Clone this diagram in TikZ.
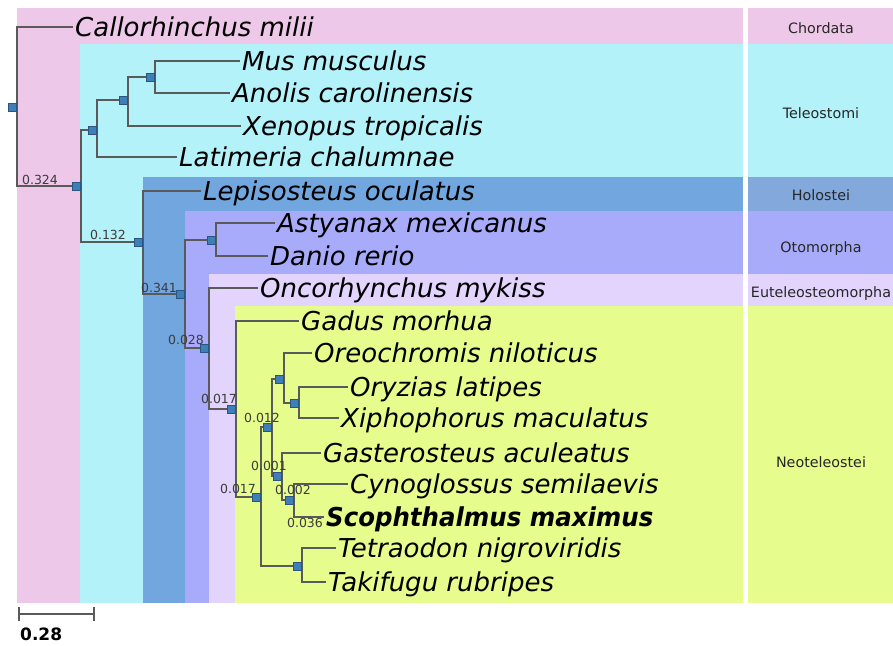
\documentclass[tikz,border=0pt]{standalone}
\usepackage{fontspec}
\setmainfont{DejaVu Sans}
\usetikzlibrary{backgrounds}
\definecolor{cchord}{HTML}{EEC8E8}
\definecolor{cteleo}{HTML}{B4F2FA}
\definecolor{cholo}{HTML}{72A6DE}
\definecolor{cholor}{HTML}{82A8DC}
\definecolor{coto}{HTML}{A8AAFA}
\definecolor{ceutel}{HTML}{E2D4FC}
\definecolor{cneo}{HTML}{E6FC8C}
\definecolor{brgrey}{HTML}{5A5A5A}
\definecolor{blgrey}{HTML}{3C3C3C}
\definecolor{jnfill}{HTML}{3F7FB8}
\definecolor{jnedge}{HTML}{2A5580}
\begin{document}
\begin{tikzpicture}[x=1pt,y=-1pt,
  leaf/.style={anchor=west,inner xsep=2pt,inner ysep=0pt,text height=19pt,text depth=0pt,font=\fontsize{26}{26}\selectfont\itshape},
  jn/.style={draw=jnedge,fill=jnfill,minimum size=8pt,inner sep=0pt,anchor=east,line width=0.6pt},
  br/.style={draw=brgrey,line width=1.2pt},
  bl/.style={inner sep=0pt,text height=9.1pt,text depth=0pt,font=\fontsize{12.5}{12.5}\selectfont,text=blgrey},
  clade/.style={inner sep=0pt,text height=10.4pt,text depth=0pt,font=\fontsize{14.3}{15}\selectfont,text=black!85}
]
\useasboundingbox (0,0) rectangle (893,645);
\begin{scope}[on background layer]
\fill[white] (0,0) rectangle (893,645);
\fill[cchord] (17,8) rectangle (743,603);
\fill[cteleo] (80,44) rectangle (743,603);
\fill[cholo] (143,177) rectangle (743,603);
\fill[coto] (185,211) rectangle (743,603);
\fill[ceutel] (209,274) rectangle (743,603);
\fill[cneo] (235,306) rectangle (743,603);
\fill[cchord] (748,8) rectangle (893,44);
\fill[cteleo] (748,44) rectangle (893,177);
\fill[cholor] (748,177) rectangle (893,211);
\fill[coto] (748,211) rectangle (893,274);
\fill[ceutel] (748,274) rectangle (893,306);
\fill[cneo] (748,306) rectangle (893,603);
\end{scope}

\node[clade] (chordata) at (821,28) {Chordata};
\node[clade] (teleostomi) at (821,113) {Teleostomi};
\node[clade] (holostei) at (821,195) {Holostei};
\node[clade] (otomorpha) at (821,247) {Otomorpha};
\node[clade] (euteleo) at (821,292) {Euteleosteomorpha};
\node[clade] (neotel) at (821,462) {Neoteleostei};

\node[leaf] (cmil) at (73,27) {Callorhinchus milii};
\node[leaf] (mmus) at (240,61) {Mus musculus};
\node[leaf] (acar) at (230,93) {Anolis carolinensis};
\node[leaf] (xtro) at (241,126) {Xenopus tropicalis};
\node[leaf] (lcha) at (177,157) {Latimeria chalumnae};
\node[leaf] (locu) at (201,191) {Lepisosteus oculatus};
\node[leaf] (amex) at (275,223) {Astyanax mexicanus};
\node[leaf] (drer) at (268,256) {Danio rerio};
\node[leaf] (omyk) at (258,288) {Oncorhynchus mykiss};
\node[leaf] (gmor) at (299,321) {Gadus morhua};
\node[leaf] (onil) at (312,353) {Oreochromis niloticus};
\node[leaf] (olat) at (348,387) {Oryzias latipes};
\node[leaf] (xmac) at (339,418) {Xiphophorus maculatus};
\node[leaf] (gacu) at (321,453) {Gasterosteus aculeatus};
\node[leaf] (csem) at (348,484) {Cynoglossus semilaevis};
\node[leaf,font=\fontsize{26}{26}\selectfont\bfseries\itshape\addfontfeature{FakeStretch=0.94}] (smax) at (324,517) {Scophthalmus maximus};
\node[leaf] (tnig) at (336,548) {Tetraodon nigroviridis};
\node[leaf] (trub) at (326,582) {Takifugu rubripes};

\node[jn] (root) at (17,107) {};
\node[jn] (n324) at (81,186) {};
\node[jn] (sarc) at (97,130) {};
\node[jn] (tetra) at (128,100) {};
\node[jn] (amni) at (155,77) {};
\node[jn] (n132) at (143,242) {};
\node[jn] (n341) at (185,294) {};
\node[jn] (oto) at (216,240) {};
\node[jn] (n028) at (209,348) {};
\node[jn] (n017a) at (236,409) {};
\node[jn] (n017b) at (261,497) {};
\node[jn] (n012) at (272,427) {};
\node[jn] (perc) at (284,379) {};
\node[jn] (ather) at (299,403) {};
\node[jn] (n001) at (282,476) {};
\node[jn] (n002) at (294,500) {};
\node[jn] (tetf) at (302,566) {};

\node[bl] (l324) at (40,180) {0.324};
\node[bl] (l132) at (108,235) {0.132};
\node[bl] (l341) at (159,288) {0.341};
\node[bl] (l028) at (186,340) {0.028};
\node[bl] (l017a) at (219,399) {0.017};
\node[bl] (l012) at (262,418) {0.012};
\node[bl] (l001) at (269,466) {0.001};
\node[bl] (l017b) at (238,489) {0.017};
\node[bl] (l002) at (293,490) {0.002};
\node[bl] (l036) at (305,523) {0.036};

\begin{scope}[on background layer]
\draw[br] (root.east) |- (cmil.west); \draw[br] (root.east) |- (n324.west);
\draw[br] (n324.east) |- (sarc.west); \draw[br] (n324.east) |- (n132.west);
\draw[br] (sarc.east) |- (tetra.west); \draw[br] (sarc.east) |- (lcha.west);
\draw[br] (tetra.east) |- (amni.west); \draw[br] (tetra.east) |- (xtro.west);
\draw[br] (amni.east) |- (mmus.west); \draw[br] (amni.east) |- (acar.west);
\draw[br] (n132.east) |- (locu.west); \draw[br] (n132.east) |- (n341.west);
\draw[br] (n341.east) |- (oto.west); \draw[br] (n341.east) |- (n028.west);
\draw[br] (oto.east) |- (amex.west); \draw[br] (oto.east) |- (drer.west);
\draw[br] (n028.east) |- (omyk.west); \draw[br] (n028.east) |- (n017a.west);
\draw[br] (n017a.east) |- (gmor.west); \draw[br] (n017a.east) |- (n017b.west);
\draw[br] (n017b.east) |- (n012.west); \draw[br] (n017b.east) |- (tetf.west);
\draw[br] (n012.east) |- (perc.west); \draw[br] (n012.east) |- (n001.west);
\draw[br] (perc.east) |- (onil.west); \draw[br] (perc.east) |- (ather.west);
\draw[br] (ather.east) |- (olat.west); \draw[br] (ather.east) |- (xmac.west);
\draw[br] (n001.east) |- (gacu.west); \draw[br] (n001.east) |- (n002.west);
\draw[br] (n002.east) |- (csem.west); \draw[br] (n002.east) |- (smax.west);
\draw[br] (tetf.east) |- (tnig.west); \draw[br] (tetf.east) |- (trub.west);
\end{scope}

\coordinate (sb0) at (19,614);
\coordinate (sb1) at (94,614);
\draw[br] (sb0) -- (sb1);
\draw[br] (sb0) ++(0,-7) -- ++(0,14);
\draw[br] (sb1) ++(0,-7) -- ++(0,14);
\node[inner sep=0pt,text height=12.4pt,text depth=0pt,font=\fontsize{17}{17}\selectfont\bfseries,anchor=west] (sblab) at (20,634) {0.28};
\end{tikzpicture}
\end{document}
